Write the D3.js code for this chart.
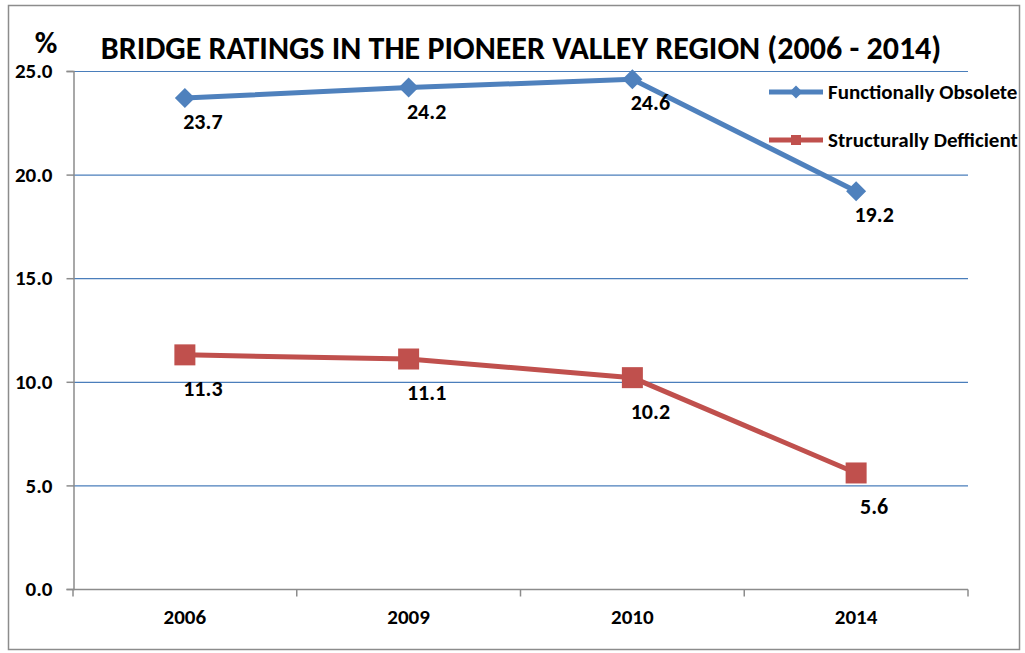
<!DOCTYPE html>
<html>
<head>
<meta charset="utf-8">
<script src="https://cdn.jsdelivr.net/npm/d3@7"></script>
<style>
  body { margin: 0; background: #fff; }
  svg { font-family: Carlito, Lato, "Open Sans", sans-serif; font-weight: bold; }
</style>
</head>
<body>
<div class="graph"></div>
<script>
// data
const years = ["2006", "2009", "2010", "2014"];
const functionallyObsolete = [23.7, 24.2, 24.6, 19.2];
const structurallyDeficient = [11.3, 11.1, 10.2, 5.6];
const yTicks = [0, 5, 10, 15, 20, 25];

function main() {
  //setting
  const width = 1025;
  const height = 653;
  const left = 73, right = 968, top = 71, bottom = 589;

  const xScale = d3.scaleBand().domain(years).range([left, right]);
  const yScale = d3.scaleLinear().domain([0, 25]).range([bottom, top]);

  const svg = d3.select(".graph").append("svg")
    .attr("width", width)
    .attr("height", height);

  // frame
  svg.append("rect")
    .attr("x", 8.5).attr("y", 5.5)
    .attr("width", 1011).attr("height", 644)
    .attr("fill", "none").attr("stroke", "#8c8c8c").attr("stroke-width", 1.5);

  // gridlines
  svg.append("g").selectAll("line")
    .data(yTicks.filter(d => d > 0))
    .enter().append("line")
    .attr("x1", left).attr("x2", right)
    .attr("y1", d => yScale(d) + 0.5).attr("y2", d => yScale(d) + 0.5)
    .attr("stroke", "#4a7ebb").attr("stroke-width", 1.2);

  //axes
  const yAxis = d3.axisLeft(yScale).tickValues(yTicks).tickFormat(d3.format(".1f")).tickSize(7).tickPadding(14);
  const gy = svg.append("g")
    .attr("transform", "translate(" + (left + 0.5) + ",0)")
    .call(yAxis);
  gy.select(".domain").attr("stroke", "#8c8c8c").attr("stroke-width", 1.5);
  gy.selectAll(".tick line").attr("stroke", "#8c8c8c").attr("stroke-width", 1.5);
  gy.selectAll("text").attr("font-size", 21).attr("font-family", "Carlito, Lato, sans-serif").attr("fill", "#000");

  const gx = svg.append("g").attr("transform", "translate(0," + (bottom + 0.5) + ")");
  gx.append("line")
    .attr("x1", left).attr("x2", right)
    .attr("stroke", "#8c8c8c").attr("stroke-width", 1.5);
  gx.selectAll(".xt")
    .data(years.map(d => xScale(d)).concat([right]))
    .enter().append("line")
    .attr("x1", d => d).attr("x2", d => d)
    .attr("y1", 0).attr("y2", 7)
    .attr("stroke", "#8c8c8c").attr("stroke-width", 1.5);
  gx.selectAll("text")
    .data(years)
    .enter().append("text")
    .attr("x", d => xScale(d) + xScale.bandwidth() / 2)
    .attr("y", 34)
    .attr("text-anchor", "middle")
    .attr("font-size", 21)
    .text(d => d);

  // title
  svg.append("text")
    .attr("x", 521).attr("y", 59)
    .attr("text-anchor", "middle")
    .attr("font-size", 32)
    .text("BRIDGE RATINGS IN THE PIONEER VALLEY REGION (2006 - 2014)");
  svg.append("text")
    .attr("x", 46).attr("y", 53)
    .attr("text-anchor", "middle")
    .attr("font-size", 31)
    .text("%");

  const cx = d => xScale(d) + xScale.bandwidth() / 2;
  const series = [
    { name: "Functionally Obsolete", values: functionallyObsolete, color: "#4f81bd", shape: "diamond", dy: 31 },
    { name: "Structurally Defficient", values: structurallyDeficient, color: "#c0504d", shape: "square", dy: 41 }
  ];

  const line = d3.line().x((d, i) => cx(years[i])).y(d => yScale(d));

  const marker = (g, s, x, y, r) => {
    if (s.shape === "diamond") {
      g.append("path")
        .attr("d", `M${x},${y - r}L${x + r},${y}L${x},${y + r}L${x - r},${y}Z`)
        .attr("fill", s.color);
    } else {
      g.append("rect")
        .attr("x", x - r).attr("y", y - r)
        .attr("width", 2 * r).attr("height", 2 * r)
        .attr("fill", s.color);
    }
  };

  series.forEach((s, si) => {
    const g = svg.append("g");
    g.append("path")
      .datum(s.values)
      .attr("d", line)
      .attr("fill", "none")
      .attr("stroke", s.color)
      .attr("stroke-width", 5)
      .attr("stroke-linejoin", "round");
    s.values.forEach((v, i) => {
      marker(g, s, cx(years[i]), yScale(v), s.shape === "diamond" ? 10 : 10.5);
      g.append("text")
        .attr("x", cx(years[i]) + 18)
        .attr("y", yScale(v) + s.dy)
        .attr("text-anchor", "middle")
        .attr("font-size", 22)
        .text(v.toFixed(1));
    });

    // legend
    const ly = 92 + si * 48;
    const lg = svg.append("g");
    lg.append("line")
      .attr("x1", 769).attr("x2", 823)
      .attr("y1", ly).attr("y2", ly)
      .attr("stroke", s.color).attr("stroke-width", 5);
    marker(lg, s, 796, ly, s.shape === "diamond" ? 6.5 : 5);
    lg.append("text")
      .attr("x", 828).attr("y", ly + 7)
      .attr("font-size", 21)
      .text(s.name);
  });
}

main();
</script>
</body>
</html>
